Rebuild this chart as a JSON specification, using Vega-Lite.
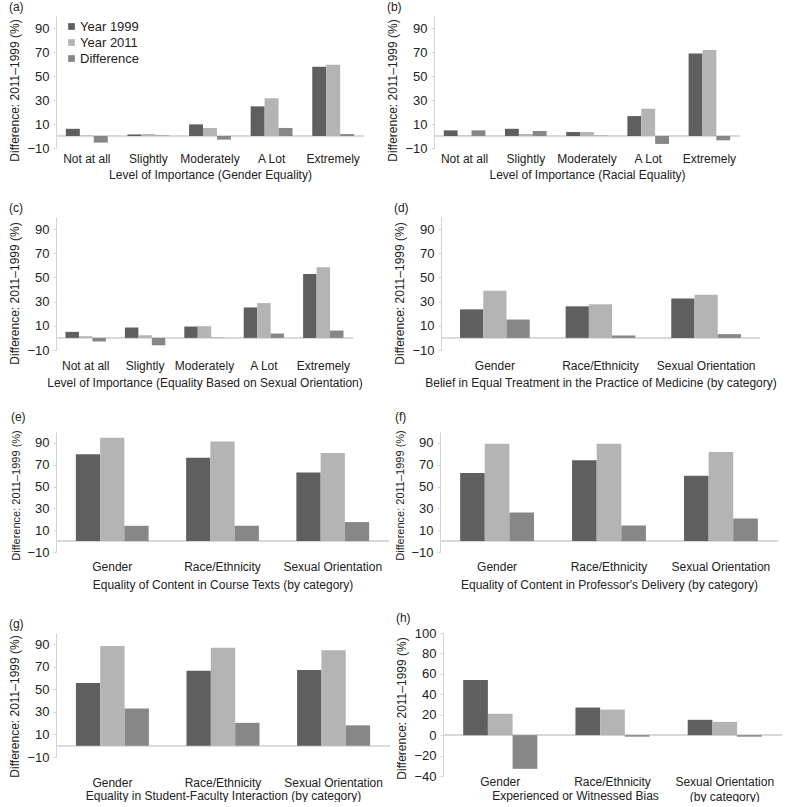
{
  "$schema": "https://vega.github.io/schema/vega-lite/v6.json",
  "padding": {"left": 8, "top": 1, "right": 2, "bottom": 0},
  "data": {"values": [
    {"panel": "a", "category": "Not at all", "series": "Year 1999", "value": 6},
    {"panel": "a", "category": "Not at all", "series": "Year 2011", "value": 0.4},
    {"panel": "a", "category": "Not at all", "series": "Difference", "value": -5.5},
    {"panel": "a", "category": "Slightly", "series": "Year 1999", "value": 1.3},
    {"panel": "a", "category": "Slightly", "series": "Year 2011", "value": 1.6},
    {"panel": "a", "category": "Slightly", "series": "Difference", "value": 0.4},
    {"panel": "a", "category": "Moderately", "series": "Year 1999", "value": 9.7},
    {"panel": "a", "category": "Moderately", "series": "Year 2011", "value": 6.7},
    {"panel": "a", "category": "Moderately", "series": "Difference", "value": -3},
    {"panel": "a", "category": "A Lot", "series": "Year 1999", "value": 24.7},
    {"panel": "a", "category": "A Lot", "series": "Year 2011", "value": 31.4},
    {"panel": "a", "category": "A Lot", "series": "Difference", "value": 6.7},
    {"panel": "a", "category": "Extremely", "series": "Year 1999", "value": 57.8},
    {"panel": "a", "category": "Extremely", "series": "Year 2011", "value": 59.4},
    {"panel": "a", "category": "Extremely", "series": "Difference", "value": 1.6},

    {"panel": "b", "category": "Not at all", "series": "Year 1999", "value": 4.7},
    {"panel": "b", "category": "Not at all", "series": "Year 2011", "value": 0.3},
    {"panel": "b", "category": "Not at all", "series": "Difference", "value": 4.7},
    {"panel": "b", "category": "Slightly", "series": "Year 1999", "value": 6},
    {"panel": "b", "category": "Slightly", "series": "Year 2011", "value": 1.7},
    {"panel": "b", "category": "Slightly", "series": "Difference", "value": 4.2},
    {"panel": "b", "category": "Moderately", "series": "Year 1999", "value": 3.3},
    {"panel": "b", "category": "Moderately", "series": "Year 2011", "value": 3.3},
    {"panel": "b", "category": "Moderately", "series": "Difference", "value": 0.3},
    {"panel": "b", "category": "A Lot", "series": "Year 1999", "value": 16.6},
    {"panel": "b", "category": "A Lot", "series": "Year 2011", "value": 22.7},
    {"panel": "b", "category": "A Lot", "series": "Difference", "value": -6.6},
    {"panel": "b", "category": "Extremely", "series": "Year 1999", "value": 68.7},
    {"panel": "b", "category": "Extremely", "series": "Year 2011", "value": 71.7},
    {"panel": "b", "category": "Extremely", "series": "Difference", "value": -3.6},

    {"panel": "c", "category": "Not at all", "series": "Year 1999", "value": 5},
    {"panel": "c", "category": "Not at all", "series": "Year 2011", "value": 1.4},
    {"panel": "c", "category": "Not at all", "series": "Difference", "value": -3},
    {"panel": "c", "category": "Slightly", "series": "Year 1999", "value": 8.6},
    {"panel": "c", "category": "Slightly", "series": "Year 2011", "value": 2.2},
    {"panel": "c", "category": "Slightly", "series": "Difference", "value": -6.1},
    {"panel": "c", "category": "Moderately", "series": "Year 1999", "value": 9.4},
    {"panel": "c", "category": "Moderately", "series": "Year 2011", "value": 9.7},
    {"panel": "c", "category": "Moderately", "series": "Difference", "value": 0.3},
    {"panel": "c", "category": "A Lot", "series": "Year 1999", "value": 25.2},
    {"panel": "c", "category": "A Lot", "series": "Year 2011", "value": 28.8},
    {"panel": "c", "category": "A Lot", "series": "Difference", "value": 3.6},
    {"panel": "c", "category": "Extremely", "series": "Year 1999", "value": 52.9},
    {"panel": "c", "category": "Extremely", "series": "Year 2011", "value": 58.4},
    {"panel": "c", "category": "Extremely", "series": "Difference", "value": 6.1},

    {"panel": "d", "category": "Gender", "series": "Year 1999", "value": 23.6},
    {"panel": "d", "category": "Gender", "series": "Year 2011", "value": 39},
    {"panel": "d", "category": "Gender", "series": "Difference", "value": 15.2},
    {"panel": "d", "category": "Race/Ethnicity", "series": "Year 1999", "value": 26.1},
    {"panel": "d", "category": "Race/Ethnicity", "series": "Year 2011", "value": 27.8},
    {"panel": "d", "category": "Race/Ethnicity", "series": "Difference", "value": 2},
    {"panel": "d", "category": "Sexual Orientation", "series": "Year 1999", "value": 32.6},
    {"panel": "d", "category": "Sexual Orientation", "series": "Year 2011", "value": 35.7},
    {"panel": "d", "category": "Sexual Orientation", "series": "Difference", "value": 3.1},

    {"panel": "e", "category": "Gender", "series": "Year 1999", "value": 79.6},
    {"panel": "e", "category": "Gender", "series": "Year 2011", "value": 94.8},
    {"panel": "e", "category": "Gender", "series": "Difference", "value": 14},
    {"panel": "e", "category": "Race/Ethnicity", "series": "Year 1999", "value": 76.5},
    {"panel": "e", "category": "Race/Ethnicity", "series": "Year 2011", "value": 91.2},
    {"panel": "e", "category": "Race/Ethnicity", "series": "Difference", "value": 14},
    {"panel": "e", "category": "Sexual Orientation", "series": "Year 1999", "value": 62.8},
    {"panel": "e", "category": "Sexual Orientation", "series": "Year 2011", "value": 80.8},
    {"panel": "e", "category": "Sexual Orientation", "series": "Difference", "value": 17.4},

    {"panel": "f", "category": "Gender", "series": "Year 1999", "value": 62.5},
    {"panel": "f", "category": "Gender", "series": "Year 2011", "value": 89.3},
    {"panel": "f", "category": "Gender", "series": "Difference", "value": 26.2},
    {"panel": "f", "category": "Race/Ethnicity", "series": "Year 1999", "value": 74},
    {"panel": "f", "category": "Race/Ethnicity", "series": "Year 2011", "value": 89.3},
    {"panel": "f", "category": "Race/Ethnicity", "series": "Difference", "value": 14.3},
    {"panel": "f", "category": "Sexual Orientation", "series": "Year 1999", "value": 60},
    {"panel": "f", "category": "Sexual Orientation", "series": "Year 2011", "value": 81.7},
    {"panel": "f", "category": "Sexual Orientation", "series": "Difference", "value": 20.7},

    {"panel": "g", "category": "Gender", "series": "Year 1999", "value": 55.6},
    {"panel": "g", "category": "Gender", "series": "Year 2011", "value": 88.4},
    {"panel": "g", "category": "Gender", "series": "Difference", "value": 33.1},
    {"panel": "g", "category": "Race/Ethnicity", "series": "Year 1999", "value": 66.6},
    {"panel": "g", "category": "Race/Ethnicity", "series": "Year 2011", "value": 86.9},
    {"panel": "g", "category": "Race/Ethnicity", "series": "Difference", "value": 20.3},
    {"panel": "g", "category": "Sexual Orientation", "series": "Year 1999", "value": 67.2},
    {"panel": "g", "category": "Sexual Orientation", "series": "Year 2011", "value": 84.7},
    {"panel": "g", "category": "Sexual Orientation", "series": "Difference", "value": 18.1},

    {"panel": "h", "category": "Gender", "series": "Year 1999", "value": 54},
    {"panel": "h", "category": "Gender", "series": "Year 2011", "value": 21},
    {"panel": "h", "category": "Gender", "series": "Difference", "value": -33},
    {"panel": "h", "category": "Race/Ethnicity", "series": "Year 1999", "value": 27},
    {"panel": "h", "category": "Race/Ethnicity", "series": "Year 2011", "value": 25},
    {"panel": "h", "category": "Race/Ethnicity", "series": "Difference", "value": -1.5},
    {"panel": "h", "category": "Sexual Orientation", "series": "Year 1999", "value": 15},
    {"panel": "h", "category": "Sexual Orientation", "series": "Year 2011", "value": 13},
    {"panel": "h", "category": "Sexual Orientation", "series": "Difference", "value": -1.5}
  ]},
  "spacing": 22,
  "resolve": {"scale": {"color": "independent", "xOffset": "independent"}, "legend": {"color": "independent"}},
  "vconcat": [
    {
      "spacing": 21,
      "resolve": {"scale": {"color": "independent", "xOffset": "independent"}, "legend": {"color": "independent"}},
      "hconcat": [
        {
          "title": "(a)", "width": 308, "height": 132,
          "transform": [{"filter": "datum.panel == 'a'"}],
          "layer": [
            {"mark": {"type": "rule", "color": "#d9d9d9"}, "encoding": {"y": {"datum": 0, "type": "quantitative", "scale": {"domain": [-10, 100], "nice": false}, "axis": {"values": [-10, 10, 30, 50, 70, 90], "labelOverlap": false, "title": "Difference: 2011–1999 (%)", "titleY": 74}}}},
            {"mark": "bar", "encoding": {
              "x": {"field": "category", "type": "nominal", "sort": ["Not at all", "Slightly", "Moderately", "A Lot", "Extremely"], "scale": {"paddingInner": 0.32, "paddingOuter": 0.16}, "axis": {"title": "Level of Importance (Gender Equality)", "titlePadding": 5}},
              "xOffset": {"field": "series", "type": "nominal", "sort": ["Year 1999", "Year 2011", "Difference"]},
              "y": {"field": "value", "type": "quantitative", "scale": {"domain": [-10, 100], "nice": false}, "axis": {"values": [-10, 10, 30, 50, 70, 90], "labelOverlap": false, "title": "Difference: 2011–1999 (%)", "titleY": 74}},
              "color": {"field": "series", "type": "nominal", "scale": {"domain": ["Year 1999", "Year 2011", "Difference"], "range": ["#5f5f5f", "#b4b4b4", "#878787"]},
                "legend": {"orient": "none", "legendX": 9, "legendY": 4, "title": null, "symbolType": "square", "symbolSize": 45, "symbolStrokeWidth": 0, "labelFontSize": 13, "labelFont": "Liberation Sans", "labelColor": "#222", "rowPadding": 2, "labelOffset": 2}}
            }}
          ]
        },
        {
          "title": "(b)", "width": 306, "height": 132,
          "transform": [{"filter": "datum.panel == 'b'"}],
          "layer": [
            {"mark": {"type": "rule", "color": "#d9d9d9"}, "encoding": {"y": {"datum": 0, "type": "quantitative", "scale": {"domain": [-10, 100], "nice": false}, "axis": {"values": [-10, 10, 30, 50, 70, 90], "labelOverlap": false, "title": "Difference: 2011–1999 (%)", "titleY": 74}}}},
            {"mark": "bar", "encoding": {
              "x": {"field": "category", "type": "nominal", "sort": ["Not at all", "Slightly", "Moderately", "A Lot", "Extremely"], "scale": {"paddingInner": 0.32, "paddingOuter": 0.16}, "axis": {"title": "Level of Importance (Racial Equality)", "titlePadding": 5}},
              "xOffset": {"field": "series", "type": "nominal", "sort": ["Year 1999", "Year 2011", "Difference"]},
              "y": {"field": "value", "type": "quantitative", "scale": {"domain": [-10, 100], "nice": false}, "axis": {"values": [-10, 10, 30, 50, 70, 90], "labelOverlap": false, "title": "Difference: 2011–1999 (%)", "titleY": 74}},
              "color": {"field": "series", "type": "nominal", "scale": {"domain": ["Year 1999", "Year 2011", "Difference"], "range": ["#5f5f5f", "#b4b4b4", "#878787"]}, "legend": null}
            }}
          ]
        }
      ]
    },
    {
      "spacing": 30,
      "resolve": {"scale": {"color": "independent", "xOffset": "independent"}, "legend": {"color": "independent"}},
      "hconcat": [
        {
          "title": "(c)", "width": 297, "height": 133,
          "transform": [{"filter": "datum.panel == 'c'"}],
          "layer": [
            {"mark": {"type": "rule", "color": "#d9d9d9"}, "encoding": {"y": {"datum": 0, "type": "quantitative", "scale": {"domain": [-10, 100], "nice": false}, "axis": {"values": [-10, 10, 30, 50, 70, 90], "labelOverlap": false, "title": "Difference: 2011–1999 (%)", "titleY": 76}}}},
            {"mark": "bar", "encoding": {
              "x": {"field": "category", "type": "nominal", "sort": ["Not at all", "Slightly", "Moderately", "A Lot", "Extremely"], "scale": {"paddingInner": 0.32, "paddingOuter": 0.16}, "axis": {"title": "Level of Importance (Equality Based on Sexual Orientation)", "labelPadding": 10, "titlePadding": 6}},
              "xOffset": {"field": "series", "type": "nominal", "sort": ["Year 1999", "Year 2011", "Difference"]},
              "y": {"field": "value", "type": "quantitative", "scale": {"domain": [-10, 100], "nice": false}, "axis": {"values": [-10, 10, 30, 50, 70, 90], "labelOverlap": false, "title": "Difference: 2011–1999 (%)", "titleY": 76}},
              "color": {"field": "series", "type": "nominal", "scale": {"domain": ["Year 1999", "Year 2011", "Difference"], "range": ["#5f5f5f", "#b4b4b4", "#878787"]}, "legend": null}
            }}
          ]
        },
        {
          "title": "(d)", "width": 319, "height": 133,
          "transform": [{"filter": "datum.panel == 'd'"}],
          "layer": [
            {"mark": {"type": "rule", "color": "#d9d9d9"}, "encoding": {"y": {"datum": 0, "type": "quantitative", "scale": {"domain": [-10, 100], "nice": false}, "axis": {"values": [-10, 10, 30, 50, 70, 90], "labelOverlap": false, "title": "Difference: 2011–1999 (%)", "titleY": 76}}}},
            {"mark": "bar", "encoding": {
              "x": {"field": "category", "type": "nominal", "sort": ["Gender", "Race/Ethnicity", "Sexual Orientation"], "scale": {"paddingInner": 0.34, "paddingOuter": 0.18}, "axis": {"title": "Belief in Equal Treatment in the Practice of Medicine (by category)", "labelPadding": 10, "titlePadding": 6}},
              "xOffset": {"field": "series", "type": "nominal", "sort": ["Year 1999", "Year 2011", "Difference"]},
              "y": {"field": "value", "type": "quantitative", "scale": {"domain": [-10, 100], "nice": false}, "axis": {"values": [-10, 10, 30, 50, 70, 90], "labelOverlap": false, "title": "Difference: 2011–1999 (%)", "titleY": 76}},
              "color": {"field": "series", "type": "nominal", "scale": {"domain": ["Year 1999", "Year 2011", "Difference"], "range": ["#5f5f5f", "#b4b4b4", "#878787"]}, "legend": null}
            }}
          ]
        }
      ]
    },
    {
      "spacing": 4,
      "resolve": {"scale": {"color": "independent", "xOffset": "independent"}, "legend": {"color": "independent"}},
      "hconcat": [
        {
          "title": {"text": "(e)", "offset": 6}, "width": 333, "height": 120,
          "transform": [{"filter": "datum.panel == 'e'"}],
          "layer": [
            {"mark": {"type": "rule", "color": "#d9d9d9"}, "encoding": {"y": {"datum": 0, "type": "quantitative", "scale": {"domain": [-10, 100], "nice": false}, "axis": {"values": [-10, 10, 30, 50, 70, 90], "labelOverlap": false, "title": "Difference: 2011–1999 (%)", "titleFontSize": 11, "titleY": 63}}}},
            {"mark": "bar", "encoding": {
              "x": {"field": "category", "type": "nominal", "sort": ["Gender", "Race/Ethnicity", "Sexual Orientation"], "scale": {"paddingInner": 0.34, "paddingOuter": 0.18}, "axis": {"title": "Equality of Content in Course Texts (by category)", "labelPadding": 9, "titlePadding": 7}},
              "xOffset": {"field": "series", "type": "nominal", "sort": ["Year 1999", "Year 2011", "Difference"]},
              "y": {"field": "value", "type": "quantitative", "scale": {"domain": [-10, 100], "nice": false}, "axis": {"values": [-10, 10, 30, 50, 70, 90], "labelOverlap": false, "title": "Difference: 2011–1999 (%)", "titleFontSize": 11, "titleY": 63}},
              "color": {"field": "series", "type": "nominal", "scale": {"domain": ["Year 1999", "Year 2011", "Difference"], "range": ["#5f5f5f", "#b4b4b4", "#878787"]}, "legend": null}
            }}
          ]
        },
        {
          "title": {"text": "(f)", "offset": 6}, "width": 338, "height": 120,
          "transform": [{"filter": "datum.panel == 'f'"}],
          "layer": [
            {"mark": {"type": "rule", "color": "#d9d9d9"}, "encoding": {"y": {"datum": 0, "type": "quantitative", "scale": {"domain": [-10, 100], "nice": false}, "axis": {"values": [-10, 10, 30, 50, 70, 90], "labelOverlap": false, "title": "Difference: 2011–1999 (%)", "titleFontSize": 11, "titleY": 63}}}},
            {"mark": "bar", "encoding": {
              "x": {"field": "category", "type": "nominal", "sort": ["Gender", "Race/Ethnicity", "Sexual Orientation"], "scale": {"paddingInner": 0.34, "paddingOuter": 0.18}, "axis": {"title": "Equality of Content in Professor's Delivery (by category)", "labelPadding": 9, "titlePadding": 7}},
              "xOffset": {"field": "series", "type": "nominal", "sort": ["Year 1999", "Year 2011", "Difference"]},
              "y": {"field": "value", "type": "quantitative", "scale": {"domain": [-10, 100], "nice": false}, "axis": {"values": [-10, 10, 30, 50, 70, 90], "labelOverlap": false, "title": "Difference: 2011–1999 (%)", "titleFontSize": 11, "titleY": 63}},
              "color": {"field": "series", "type": "nominal", "scale": {"domain": ["Year 1999", "Year 2011", "Difference"], "range": ["#5f5f5f", "#b4b4b4", "#878787"]}, "legend": null}
            }}
          ]
        }
      ]
    },
    {
      "spacing": 4,
      "resolve": {"scale": {"color": "independent", "xOffset": "independent"}, "legend": {"color": "independent"}},
      "hconcat": [
        {
          "title": {"text": "(g)", "offset": 2}, "width": 334, "height": 124,
          "transform": [{"filter": "datum.panel == 'g'"}],
          "layer": [
            {"mark": {"type": "rule", "color": "#d9d9d9"}, "encoding": {"y": {"datum": 0, "type": "quantitative", "scale": {"domain": [-10, 100], "nice": false}, "axis": {"values": [-10, 10, 30, 50, 70, 90], "labelOverlap": false, "title": "Difference: 2011–1999 (%)", "titleY": 73}}}},
            {"mark": "bar", "encoding": {
              "x": {"field": "category", "type": "nominal", "sort": ["Gender", "Race/Ethnicity", "Sexual Orientation"], "scale": {"paddingInner": 0.34, "paddingOuter": 0.18}, "axis": {"title": "Equality in Student-Faculty Interaction (by category)", "labelPadding": 20, "titlePadding": 2}},
              "xOffset": {"field": "series", "type": "nominal", "sort": ["Year 1999", "Year 2011", "Difference"]},
              "y": {"field": "value", "type": "quantitative", "scale": {"domain": [-10, 100], "nice": false}, "axis": {"values": [-10, 10, 30, 50, 70, 90], "labelOverlap": false, "title": "Difference: 2011–1999 (%)", "titleY": 73}},
              "color": {"field": "series", "type": "nominal", "scale": {"domain": ["Year 1999", "Year 2011", "Difference"], "range": ["#5f5f5f", "#b4b4b4", "#878787"]}, "legend": null}
            }}
          ]
        },
        {
          "title": {"text": "(h)", "offset": 2}, "width": 339, "height": 143,
          "transform": [{"filter": "datum.panel == 'h'"}],
          "layer": [
            {"mark": {"type": "rule", "color": "#d9d9d9"}, "encoding": {"y": {"datum": 0, "type": "quantitative", "scale": {"domain": [-40, 100], "nice": false}, "axis": {"values": [-40, -20, 0, 20, 40, 60, 80, 100], "labelOverlap": false, "title": "Difference: 2011–1999 (%)", "titleY": 75}}}},
            {"mark": "bar", "encoding": {
              "x": {"field": "category", "type": "nominal", "sort": ["Gender", "Race/Ethnicity", "Sexual Orientation"], "scale": {"paddingInner": 0.34, "paddingOuter": 0.18},
                "axis": {"title": "Experienced or Witnessed Bias", "labelPadding": 0, "labelLineHeight": 15, "titleX": 132, "titleY": 14, "labelExpr": "datum.value == 'Sexual Orientation' ? ['Sexual Orientation', '(by category)'] : datum.value"}},
              "xOffset": {"field": "series", "type": "nominal", "sort": ["Year 1999", "Year 2011", "Difference"]},
              "y": {"field": "value", "type": "quantitative", "scale": {"domain": [-40, 100], "nice": false}, "axis": {"values": [-40, -20, 0, 20, 40, 60, 80, 100], "labelOverlap": false, "title": "Difference: 2011–1999 (%)", "titleY": 75}},
              "color": {"field": "series", "type": "nominal", "scale": {"domain": ["Year 1999", "Year 2011", "Difference"], "range": ["#5f5f5f", "#b4b4b4", "#878787"]}, "legend": null}
            }}
          ]
        }
      ]
    }
  ],
  "config": {
    "font": "Liberation Sans",
    "view": {"stroke": null},
    "axis": {"labelFont": "Liberation Sans", "titleFont": "Liberation Sans", "labelFontSize": 12, "titleFontSize": 12, "titleFontWeight": "normal", "labelColor": "#222", "titleColor": "#222", "domainColor": "#d4d4d4", "tickColor": "#d4d4d4", "grid": false},
    "axisX": {"domain": false, "ticks": false, "labelAngle": 0, "labelPadding": 5, "titlePadding": 3, "labelOverlap": false},
    "axisY": {"tickSize": 3, "labelPadding": 4, "titlePadding": 5, "labelOverlap": false, "labelFontSize": 13},
    "title": {"anchor": "start", "frame": "bounds", "fontSize": 12, "fontWeight": "normal", "offset": 2, "color": "#222", "font": "Liberation Sans"}
  }
}
